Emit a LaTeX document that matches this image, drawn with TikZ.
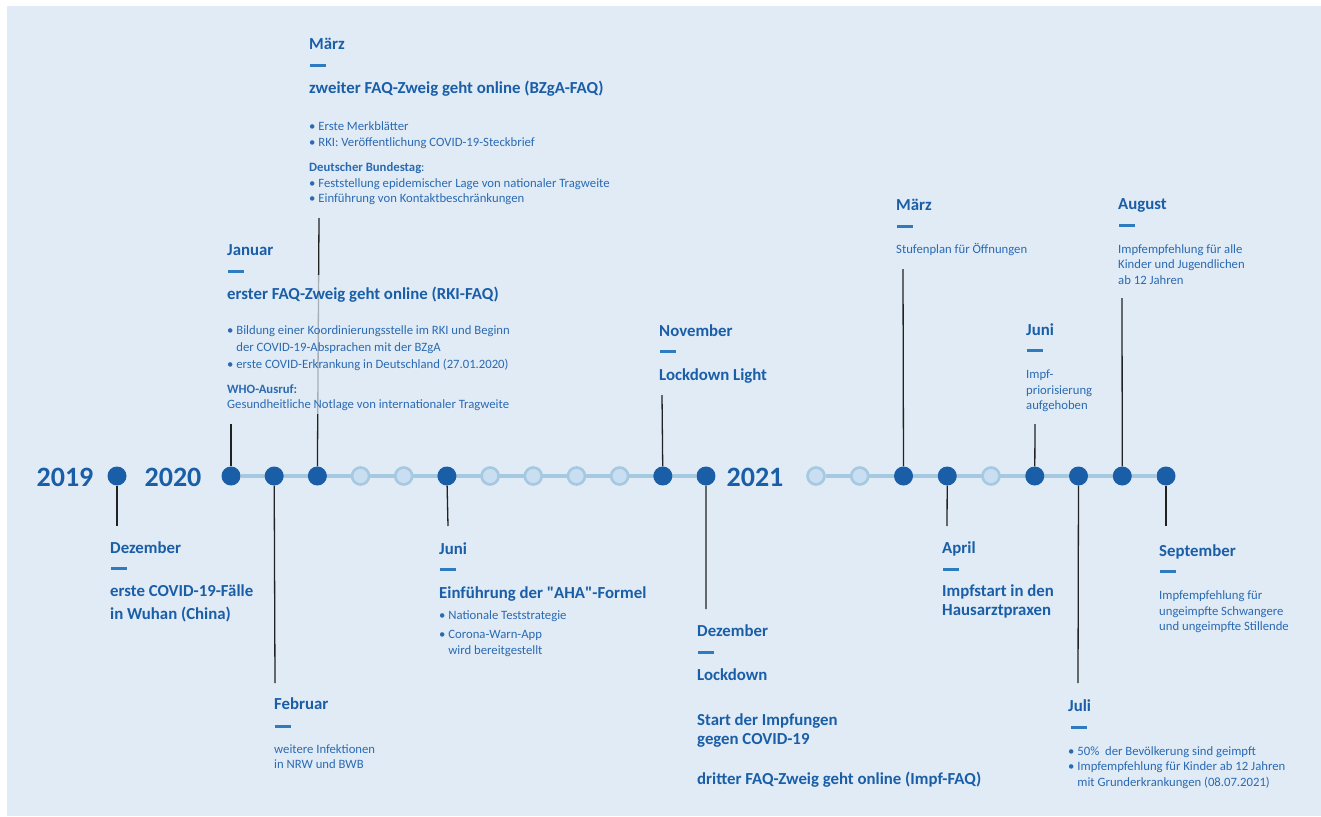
\documentclass[tikz,border=0pt]{standalone}
\usepackage{fontspec}
\setmainfont{Carlito}
\usetikzlibrary{positioning,backgrounds}
\definecolor{pagebg}{HTML}{E0EBF5}
\definecolor{tlblue}{HTML}{1A5EA8}
\definecolor{tltext}{HTML}{2A6AB3}
\definecolor{tldash}{HTML}{2F7BBF}
\definecolor{tlline}{HTML}{A6C9E2}
\definecolor{tlpale}{HTML}{C9DEF0}
\definecolor{tlstem}{HTML}{222222}

\begin{document}
\begin{tikzpicture}[x=1pt,y=-1pt]

	\tikzset{
		done dot/.style={circle, fill=tlblue, minimum size=19pt, inner sep=0pt},
		open dot/.style={circle, fill=tlpale, draw=tlline, line width=2.6pt, minimum size=17pt, inner sep=0pt},
		track/.style={tlline, line width=4pt},
		stem line/.style={tlstem, line width=1.3pt},
		veil/.style={pagebg, opacity=0.7},
		year label/.style={text=tlblue, font=\fontsize{28}{32}\selectfont\bfseries, inner sep=0pt},
		month title/.style={anchor=base west, inner sep=0pt, text=tlblue, font=\fontsize{16.8}{19}\selectfont\bfseries},
		month dash/.style={anchor=west, fill=tldash, minimum width=16pt, minimum height=3pt, inner sep=0pt},
		head text/.style={anchor=base west, inner sep=0pt, text=tlblue, font=\fontsize{16.8}{19}\selectfont\bfseries},
		body text/.style={anchor=base west, inner sep=0pt, text=tltext, font=\fontsize{12.7}{15}\selectfont}
	}
	\newcommand{\bul}{\textbullet\ }
	\newcommand{\ind}{\phantom{\textbullet\ }}

	\useasboundingbox (0,0) rectangle (1321,816);

	% years
	\node[year label] (y2019) at (65,477) {2019};
	\node[year label] (y2020) at (173,477) {2020};
	\node[year label] (y2021) at (755,477) {2021};

	% months on the line
	\node[done dot] (d19) at (117,476) {};
	\foreach \m in {1,2,3,6,11,12}
		\node[done dot] (m20-\m) at ({231+43.18*(\m-1)},476) {};
	\foreach \m in {4,5,7,8,9,10}
		\node[open dot] (m20-\m) at ({231+43.18*(\m-1)},476) {};
	\foreach \m in {3,4,6,7,8,9}
		\node[done dot] (m21-\m) at ({816+43.75*(\m-1)},476) {};
	\foreach \m in {1,2,5}
		\node[open dot] (m21-\m) at ({816+43.75*(\m-1)},476) {};

	% free ends of the stems
	\coordinate (d19 end) at (117,526);
	\coordinate (jan20 end) at (231,424);
	\coordinate (feb20 end) at (275,683);
	\coordinate (mar20 end) at (319,218);
	\coordinate (jun20 end) at (448,526);
	\coordinate (nov20 end) at (662,395);
	\coordinate (dec20 end) at (706,609);
	\coordinate (mar21 end) at (903,269);
	\coordinate (apr21 end) at (947,526);
	\coordinate (jun21 end) at (1035,424);
	\coordinate (jul21 end) at (1078,683);
	\coordinate (aug21 end) at (1122,298);
	\coordinate (sep21 end) at (1166,526);

	% Dezember 2019
	\node[month title] (dec19) at (110,553) {Dezember};
	\node[month dash] (dec19 dash) at (111,568) {};
	\foreach \y/\t [count=\i] in {596/erste COVID-19-Fälle, 619/in Wuhan (China)}
		\node[head text] (dec19 head\i) at (110,\y) {\t};

	% Januar 2020
	\node[month title] (jan20) at (227,255) {Januar};
	\node[month dash] (jan20 dash) at (228,271) {};
	\node[head text] (jan20 head) at (227,299) {erster FAQ-Zweig geht online (RKI-FAQ)};
	\foreach \y/\t [count=\i] in {334/\bul Bildung einer Koordinierungsstelle im RKI und Beginn,
			351/\ind der COVID-19-Absprachen mit der BZgA,
			368/\bul erste COVID-Erkrankung in Deutschland (27.01.2020),
			393/\textbf{WHO-Ausruf:},
			408/Gesundheitliche Notlage von internationaler Tragweite}
		\node[body text] (jan20 body\i) at (227,\y) {\t};

	% Februar 2020
	\node[month title] (feb20) at (274,709) {Februar};
	\node[month dash] (feb20 dash) at (275,726) {};
	\foreach \y/\t [count=\i] in {753/weitere Infektionen, 768/in NRW und BWB}
		\node[body text] (feb20 body\i) at (274,\y) {\t};

	% März 2020
	\node[month title] (mar20) at (309,49) {März};
	\node[month dash] (mar20 dash) at (310,65) {};
	\node[head text] (mar20 head) at (309,93) {zweiter FAQ-Zweig geht online (BZgA-FAQ)};
	\foreach \y/\t [count=\i] in {130/\bul Erste Merkblätter,
			146/\bul RKI: Veröffentlichung COVID-19-Steckbrief,
			171/\textbf{Deutscher Bundestag}:,
			187/\bul Feststellung epidemischer Lage von nationaler Tragweite,
			202/\bul Einführung von Kontaktbeschränkungen}
		\node[body text] (mar20 body\i) at (309,\y) {\t};

	% Juni 2020
	\node[month title] (jun20) at (439,554) {Juni};
	\node[month dash] (jun20 dash) at (440,569) {};
	\node[head text] (jun20 head) at (439,598) {Einführung der \textquotedbl AHA\textquotedbl-Formel};
	\foreach \y/\t [count=\i] in {619/\bul Nationale Teststrategie,
			638/\bul Corona-Warn-App,
			654/\ind wird bereitgestellt}
		\node[body text] (jun20 body\i) at (439,\y) {\t};

	% November 2020
	\node[month title] (nov20) at (659,336) {November};
	\node[month dash] (nov20 dash) at (660,351) {};
	\node[head text] (nov20 head) at (659,380) {Lockdown Light};

	% Dezember 2020
	\node[month title] (dec20) at (697,636) {Dezember};
	\node[month dash] (dec20 dash) at (698,652) {};
	\foreach \y/\t [count=\i] in {680/Lockdown, 725/Start der Impfungen, 744/gegen COVID-19,
			784/dritter FAQ-Zweig geht online (Impf-FAQ)}
		\node[head text] (dec20 head\i) at (697,\y) {\t};

	% März 2021
	\node[month title] (mar21) at (896,210) {März};
	\node[month dash] (mar21 dash) at (897,226) {};
	\node[body text] (mar21 body) at (896,253) {Stufenplan für Öffnungen};

	% April 2021
	\node[month title] (apr21) at (942,553) {April};
	\node[month dash] (apr21 dash) at (943,569) {};
	\foreach \y/\t [count=\i] in {596/Impfstart in den, 615/Hausarztpraxen}
		\node[head text] (apr21 head\i) at (942,\y) {\t};

	% Juni 2021
	\node[month title] (jun21) at (1026,335) {Juni};
	\node[month dash] (jun21 dash) at (1027,350) {};
	\foreach \y/\t [count=\i] in {378/Impf-, 394/priorisierung, 409/aufgehoben}
		\node[body text] (jun21 body\i) at (1026,\y) {\t};

	% Juli 2021
	\node[month title] (jul21) at (1068,711) {Juli};
	\node[month dash] (jul21 dash) at (1071,727) {};
	\foreach \y/\t [count=\i] in {755/\bul 50\%\ \ der Bevölkerung sind geimpft,
			770/\bul Impfempfehlung für Kinder ab 12 Jahren,
			786/\ind mit Grunderkrankungen (08.07.2021)}
		\node[body text] (jul21 body\i) at (1068,\y) {\t};

	% August 2021
	\node[month title] (aug21) at (1118,209) {August};
	\node[month dash] (aug21 dash) at (1119,225) {};
	\foreach \y/\t [count=\i] in {253/Impfempfehlung für alle, 268/Kinder und Jugendlichen, 284/ab 12 Jahren}
		\node[body text] (aug21 body\i) at (1118,\y) {\t};

	% September 2021
	\node[month title] (sep21) at (1159,556) {September};
	\node[month dash] (sep21 dash) at (1160,571) {};
	\foreach \y/\t [count=\i] in {599/Impfempfehlung für, 615/ungeimpfte Schwangere, 630/und ungeimpfte Stillende}
		\node[body text] (sep21 body\i) at (1159,\y) {\t};

	\begin{scope}[on background layer]
		\fill[pagebg] (7,6) rectangle (1321,816);
		\draw[track] (m20-1) -- (m20-12);
		\draw[track] (m21-1) -- (m21-9);
		% stems
		\draw[stem line] (d19) -- (d19 end);
		\foreach \m/\e in {1/jan20,2/feb20,3/mar20,6/jun20,11/nov20,12/dec20}
			\draw[stem line] (m20-\m) -- (\e\space end);
		\foreach \m/\e in {3/mar21,4/apr21,6/jun21,7/jul21,8/aug21,9/sep21}
			\draw[stem line] (m21-\m) -- (\e\space end);
		% the January block sits over the March stem
		\fill[veil] (222,275) rectangle (515,414);
	\end{scope}

\end{tikzpicture}
\end{document}
